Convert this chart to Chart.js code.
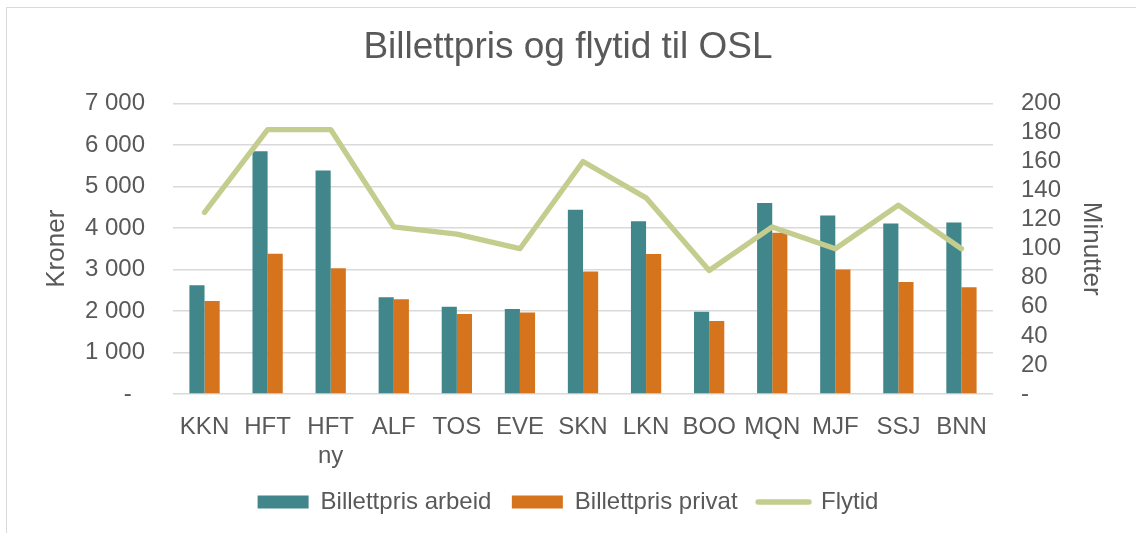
<!DOCTYPE html>
<html lang="no">
<head>
<meta charset="utf-8">
<title>Billettpris og flytid til OSL</title>
<script src="https://cdn.jsdelivr.net/npm/chart.js@4/dist/chart.umd.min.js"></script>
<style>
  html, body { margin: 0; padding: 0; background: #fff; }
  #frame {
    position: absolute; left: 6px; top: 7px; width: 1200px; height: 600px;
    border-left: 1.5px solid #d9d9d9; border-top: 1.5px solid #d9d9d9;
  }
  #wrap { position: absolute; left: 0; top: 0; width: 1136px; height: 533px; }
</style>
</head>
<body>
<div id="frame"></div>
<div id="wrap"><canvas id="flyChart" width="1136" height="533"></canvas></div>
<script>
// Flyplasser (til OSL)
const airports = ["KKN", "HFT", ["HFT", "ny"], "ALF", "TOS", "EVE", "SKN", "LKN", "BOO", "MQN", "MJF", "SSJ", "BNN"];
// Billettpris i kroner
const prisArbeid = [2620, 5850, 5385, 2330, 2100, 2050, 4440, 4160, 1980, 4600, 4300, 4110, 4130];
const prisPrivat = [2240, 3380, 3030, 2280, 1930, 1965, 2950, 3370, 1760, 3885, 3000, 2700, 2570];
// Flytid i minutter
const flytid = [125, 182, 182, 115, 110, 100, 160, 135, 85, 115, 100, 130, 100];

const FONT = "'Liberation Sans', Arial, sans-serif";
const TEXT = '#595959';
const GRID = '#d9d9d9';

// tusenskille med mellomrom, null vises som strek
const fmtKroner = (v) => v === 0 ? '-  ' : String(v).replace(/\B(?=(\d{3})+(?!\d))/g, ' ');

Chart.defaults.font.family = FONT;
Chart.defaults.color = TEXT;

const ctx = document.getElementById('flyChart').getContext('2d');
const chart = new Chart(ctx, {
  type: 'bar',
  data: {
    labels: airports,
    datasets: [
      {
        label: 'Billettpris arbeid',
        data: prisArbeid,
        backgroundColor: '#40868a',
        yAxisID: 'y',
        categoryPercentage: 0.48,
        barPercentage: 1.0
      },
      {
        label: 'Billettpris privat',
        data: prisPrivat,
        backgroundColor: '#d5741c',
        yAxisID: 'y',
        categoryPercentage: 0.48,
        barPercentage: 1.0
      },
      {
        type: 'line',
        label: 'Flytid',
        data: flytid,
        borderColor: '#c4cd8e',
        backgroundColor: '#c4cd8e',
        borderWidth: 5.3,
        borderJoinStyle: 'round',
        borderCapStyle: 'round',
        pointRadius: 0,
        tension: 0,
        yAxisID: 'y1',
        order: -1   // tegnes over søylene
      }
    ]
  },
  options: {
    responsive: false,
    animation: false,
    layout: { padding: { left: 0, right: 0, top: 0, bottom: 9 } },
    plugins: {
      tooltip: { enabled: false },
      title: {
        display: true,
        text: 'Billettpris og flytid til OSL',
        color: TEXT,
        font: { size: 37, weight: 'normal', lineHeight: 1.2 },
        padding: { top: 26, bottom: 33 }
      },
      legend: {
        position: 'bottom',
        labels: {
          font: { size: 24 },
          color: TEXT,
          usePointStyle: true,
          pointStyleWidth: 51,
          boxWidth: 51,
          boxHeight: 13,
          padding: 20.5,
          generateLabels: (c) => c.data.datasets.map((ds, i) => ({
            text: ds.label,
            fillStyle: ds.backgroundColor,
            strokeStyle: ds.borderColor || ds.backgroundColor,
            lineWidth: ds.type === 'line' ? 5.3 : 0,
            lineCap: 'round',
            pointStyle: ds.type === 'line' ? 'line' : 'rect',
            fontColor: TEXT,
            hidden: false,
            datasetIndex: i
          }))
        }
      }
    },
    scales: {
      x: {
        grid: { display: false },
        border: { display: false },
        ticks: {
          font: { size: 24 },
          color: TEXT,
          maxRotation: 0,
          autoSkip: false,
          padding: 11
        },
        afterFit: (s) => { s.height = 75.5; }
      },
      y: {
        position: 'left',
        min: 0,
        max: 7000,
        grid: { color: GRID, lineWidth: 1.5, drawTicks: false },
        border: { display: false },
        ticks: {
          stepSize: 1000,
          autoSkip: false,
          font: { size: 24 },
          color: TEXT,
          padding: 28,
          callback: fmtKroner
        },
        title: {
          display: true,
          text: 'Kroner',
          color: TEXT,
          font: { size: 26 },
          padding: { top: 41, bottom: 0 }
        },
        afterFit: (s) => { s.width = 173; }
      },
      y1: {
        position: 'right',
        min: 0,
        max: 200,
        grid: { display: false, drawTicks: false },
        border: { display: false },
        ticks: {
          stepSize: 20,
          autoSkip: false,
          font: { size: 24 },
          color: TEXT,
          padding: 28,
          callback: (v) => v === 0 ? '-' : String(v)
        },
        title: {
          display: true,
          text: 'Minutter',
          color: TEXT,
          font: { size: 26 },
          padding: { top: 29, bottom: 0 }
        },
        afterFit: (s) => { s.width = 143; }
      }
    }
  }
});
</script>
</body>
</html>
